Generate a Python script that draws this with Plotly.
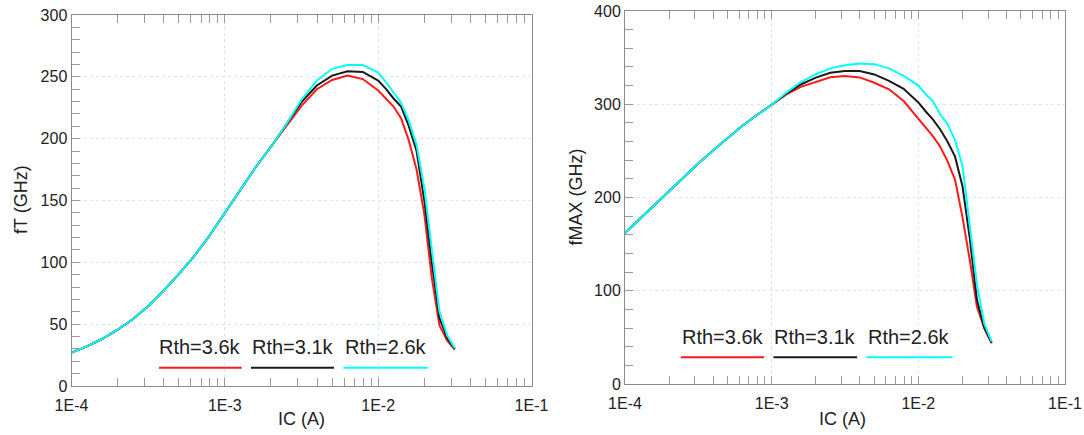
import plotly.graph_objects as go

# ---------------- data ----------------
IC = [1.00e-4, 1.26e-4, 1.58e-4, 2.00e-4, 2.51e-4, 3.16e-4, 3.98e-4, 5.01e-4, 6.31e-4, 7.94e-4,
      1.00e-3, 1.26e-3, 1.58e-3, 2.00e-3, 2.51e-3, 3.16e-3, 3.98e-3, 5.01e-3, 6.31e-3, 7.94e-3,
      1.00e-2, 1.12e-2, 1.26e-2, 1.41e-2, 1.58e-2, 1.78e-2, 2.00e-2, 2.24e-2, 2.51e-2, 2.82e-2,
      3.16e-2]

FT_36 = [27, 32, 38, 45.5, 54, 64.5, 77, 90.5, 105, 121.5,
         140, 158.5, 176.5, 193.5, 210, 226.5, 240, 247.5, 251, 248.2,
         239, 233, 226, 216.5, 199, 175, 139, 87, 49, 36.7,
         29.5]
FT_31 = [27, 32, 38, 45.5, 54, 64.5, 77, 90.5, 105, 121.5,
         140, 158.5, 176.5, 193.5, 211, 229.5, 243, 251, 254.5, 254,
         247, 240.5, 232.5, 226, 210.5, 190, 150, 99.5, 55, 38.8,
         30]
FT_26 = [27, 32, 38, 45.5, 54, 64.5, 77, 90.5, 105, 121.5,
         140, 158.5, 176.5, 193.5, 211.5, 231.5, 247, 256.5, 259.5, 259.5,
         253.5, 246, 237, 229, 215, 195, 160, 111, 60, 41,
         30.5]

FMAX_36 = [162, 177, 192, 207, 222, 236.5, 250.5, 264, 277, 288.5,
           299.5, 310.5, 318.7, 324.3, 329, 330.3, 328.8, 323, 316, 303.5,
           285, 275.5, 265.5, 254.5, 239, 219, 179, 133.5, 82.6, 59.6,
           43.5]
FMAX_31 = [162, 177, 192, 207, 222, 236.5, 250.5, 264, 277, 288.5,
           299.5, 311.5, 321.2, 328.5, 333.8, 335.7, 335.7, 332, 325, 316.5,
           302, 292.5, 283.5, 273, 260, 243.8, 212, 157, 90, 60,
           44.5]
FMAX_26 = [162, 177, 192, 207, 222, 236.5, 250.5, 264, 277, 288.5,
           299.5, 312.5, 323.8, 332.2, 338.5, 341.8, 343.8, 343, 338.5, 330.5,
           320, 311, 303, 289, 279, 261.5, 234, 171, 106.4, 64.5,
           45.5]

SERIES_NAMES = ["Rth=3.6k", "Rth=3.1k", "Rth=2.6k"]
SERIES_COLORS = ["#ff1a1a", "#1a1a1a", "#00ffff"]

X_TICKVALS = [1e-4, 1e-3, 1e-2, 1e-1]
X_TICKTEXT = ["1E-4", "1E-3", "1E-2", "1E-1"]
X_MINOR = [m * d for d in (1e-4, 1e-3, 1e-2) for m in range(2, 10)]

# ---------------- layout geometry ----------------
W, H = 1084, 435
FONT = "Liberation Sans, Arial, sans-serif"
TXT = "#222222"


def px(x):
    return x / W


def py(y):
    return 1 - y / H


fig = go.Figure()

ft_sets = [FT_36, FT_31, FT_26]
fm_sets = [FMAX_36, FMAX_31, FMAX_26]
for name, col, ys in zip(SERIES_NAMES, SERIES_COLORS, ft_sets):
    fig.add_trace(go.Scatter(x=IC, y=ys, mode="lines", name=name,
                             line=dict(color=col, width=2), showlegend=False,
                             xaxis="x", yaxis="y"))
for name, col, ys in zip(SERIES_NAMES, SERIES_COLORS, fm_sets):
    fig.add_trace(go.Scatter(x=IC, y=ys, mode="lines", name=name,
                             line=dict(color=col, width=2), showlegend=False,
                             xaxis="x2", yaxis="y2"))

grid_col = "#d2e8f7"
tick_col = "#9a9a9a"
line_col = "#8a8a8a"

xcommon = dict(type="log", range=[-4, -1], tickvals=X_TICKVALS, ticktext=X_TICKTEXT,
               showgrid=True, gridcolor=grid_col, griddash="dot", gridwidth=1,
               ticks="inside", ticklen=8, tickcolor=tick_col, tickwidth=1,
               minor=dict(tickvals=X_MINOR, ticks="inside", ticklen=8,
                          tickcolor=tick_col, showgrid=False),
               showline=True, linecolor=line_col, linewidth=1, mirror="allticks",
               zeroline=False, automargin=False, ticklabelstandoff=5,
               tickfont=dict(family=FONT, size=16, color=TXT))

ycommon = dict(showgrid=True, gridcolor=grid_col, griddash="dot", gridwidth=1,
               ticks="inside", ticklen=8, tickcolor=tick_col, tickwidth=1,
               showline=True, linecolor=line_col, linewidth=1, mirror=True,
               zeroline=False, automargin=False,
               tickfont=dict(family=FONT, size=16, color=TXT))

fig.update_layout(
    width=W, height=H, margin=dict(l=0, r=0, t=0, b=0),
    paper_bgcolor="white", plot_bgcolor="white",
    font=dict(family=FONT, color=TXT),
    xaxis=dict(domain=[px(71.5), px(531.5)], anchor="y", **xcommon),
    yaxis=dict(domain=[py(386), py(15)], anchor="x", range=[0, 300], dtick=50,
               minor=dict(dtick=10, ticks="inside", ticklen=8, tickcolor=tick_col, showgrid=False),
               **ycommon),
    xaxis2=dict(domain=[px(625), px(1065)], anchor="y2", **xcommon),
    yaxis2=dict(domain=[py(384), py(11)], anchor="x2", range=[0, 400], dtick=100,
                minor=dict(dtick=20, ticks="inside", ticklen=8, tickcolor=tick_col, showgrid=False),
                **ycommon),
)

ann = []
# axis titles
ann.append(dict(text="fT (GHz)", x=px(21), y=py(200), textangle=-90, font=dict(size=18)))
ann.append(dict(text="IC (A)", x=px(301), y=py(419), font=dict(size=18)))
ann.append(dict(text="fMAX (GHz)", x=px(575), y=py(197.5), textangle=-90, font=dict(size=18)))
ann.append(dict(text="IC (A)", x=px(842), y=py(419), font=dict(size=18)))

shapes = []
leg_left = [(159, 241.7), (251, 334), (343.3, 427.7)]
leg_right = [(680.8, 764.2), (773.5, 857.1), (866.4, 952.5)]
for (segs, line_y, text_y) in [(leg_left, 367.7, 347), (leg_right, 357.3, 337)]:
    for (x0, x1), name, col in zip(segs, SERIES_NAMES, SERIES_COLORS):
        shapes.append(dict(type="line", xref="paper", yref="paper",
                           x0=px(x0), x1=px(x1), y0=py(line_y), y1=py(line_y),
                           line=dict(color=col, width=2)))
        ann.append(dict(text=name, x=px((x0 + x1) / 2), y=py(text_y), font=dict(size=20)))

for a in ann:
    a.update(xref="paper", yref="paper", showarrow=False, xanchor="center", yanchor="middle")
    a["font"] = dict(family=FONT, color=TXT, size=a["font"]["size"])

fig.update_layout(annotations=ann, shapes=shapes)

fig.write_html("out.html")
